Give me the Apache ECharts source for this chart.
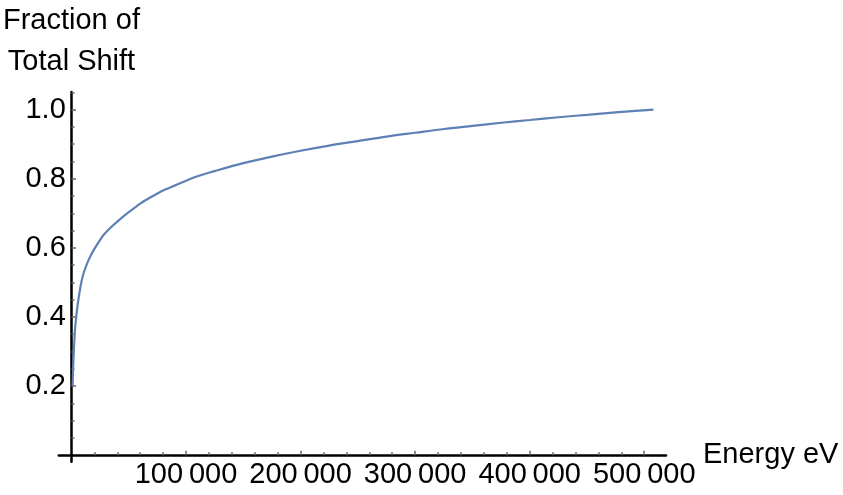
<!DOCTYPE html>
<html>
<head>
<meta charset="utf-8">
<script src="https://cdn.jsdelivr.net/npm/echarts@6/dist/echarts.min.js"></script>
<style>html,body{margin:0;padding:0;background:#fff;}#c{width:843px;height:495px;}</style>
</head>
<body>
<div id="c"></div>
<script>
// Data
const energy = [1000, 1500, 2000, 2500, 3200, 4000, 5000, 6500, 8000, 10000, 12500, 15000, 17500, 20000, 24000, 28000, 34000, 40000, 50000, 60000, 70000, 80000, 90000, 110000, 125000, 150000, 175000, 200000, 225000, 250000, 275000, 300000, 325000, 350000, 375000, 400000, 425000, 450000, 475000, 508000];
const fraction = [0.2, 0.26, 0.30, 0.33, 0.37, 0.395, 0.425, 0.46, 0.49, 0.52, 0.545, 0.565, 0.582, 0.597, 0.618, 0.637, 0.658, 0.676, 0.703, 0.728, 0.748, 0.766, 0.780, 0.807, 0.822, 0.845, 0.864, 0.881, 0.896, 0.909, 0.922, 0.933, 0.944, 0.953, 0.962, 0.970, 0.978, 0.985, 0.992, 1.0];
const xMajorTicks = [100000, 200000, 300000, 400000, 500000];
const xMinorTicks = [20000, 40000, 60000, 80000, 120000, 140000, 160000, 180000, 220000, 240000, 260000, 280000, 320000, 340000, 360000, 380000, 420000, 440000, 460000, 480000];
const yMajorTicks = [0.2, 0.4, 0.6, 0.8, 1.0];
const yMinorTicks = [0.05, 0.1, 0.15, 0.25, 0.3, 0.35, 0.45, 0.5, 0.55, 0.65, 0.7, 0.75, 0.85, 0.9, 0.95, 1.05];
const xName = 'Energy eV';
const yName = 'Fraction of\nTotal Shift';

const FONT = 'Liberation Sans, Arial, Helvetica, sans-serif';
const FS = 29;
const X_MIN = -11070, X_MAX = 519000;
const Y_MIN = -0.019, Y_MAX = 1.051;

function fmtX(v) {
  const s = String(Math.round(v));
  return s.replace(/\B(?=(\d{3})+(?!\d))/g, '\u2009');
}

const chart = echarts.init(document.getElementById('c'), null, {renderer: 'canvas'});
const tickStyle = {color: '#666', width: 1.5};
chart.setOption({
  animation: false,
  backgroundColor: '#fff',
  grid: {left: 58, right: 177, top: 87, bottom: 33.3},
  xAxis: [
    {
      type: 'value', min: X_MIN, max: X_MAX, position: 'bottom',
      axisLine: {show: true, onZero: true, onZeroAxisIndex: 0, lineStyle: {color: '#000', width: 2.5}},
      axisTick: {show: true, inside: true, length: 4.5, customValues: xMajorTicks, lineStyle: tickStyle},
      axisLabel: {show: true, customValues: xMajorTicks, formatter: fmtX, margin: -1,
        fontFamily: FONT, fontSize: FS, color: '#000'},
      splitLine: {show: false},
      name: xName, nameLocation: 'end', nameGap: 37,
      nameTextStyle: {fontFamily: FONT, fontSize: FS, color: '#000'}
    },
    {
      type: 'value', min: X_MIN, max: X_MAX, position: 'bottom',
      axisLine: {show: false, onZero: true, onZeroAxisIndex: 0},
      axisTick: {show: true, inside: true, length: 3, customValues: xMinorTicks, lineStyle: tickStyle},
      axisLabel: {show: false},
      splitLine: {show: false}
    }
  ],
  yAxis: [
    {
      type: 'value', min: Y_MIN, max: Y_MAX, position: 'left',
      axisLine: {show: true, onZero: true, onZeroAxisIndex: 0, lineStyle: {color: '#000', width: 2.5}},
      axisTick: {show: true, inside: true, length: 4.5, customValues: yMajorTicks, lineStyle: tickStyle},
      axisLabel: {show: true, customValues: yMajorTicks, formatter: v => v.toFixed(1), margin: -7,
        fontFamily: FONT, fontSize: FS, color: '#000'},
      splitLine: {show: false},
      name: yName, nameLocation: 'end', nameGap: 9,
      nameTextStyle: {fontFamily: FONT, fontSize: FS, color: '#000', lineHeight: 41.5, align: 'center'}
    },
    {
      type: 'value', min: Y_MIN, max: Y_MAX, position: 'left',
      axisLine: {show: false, onZero: true, onZeroAxisIndex: 0},
      axisTick: {show: true, inside: true, length: 3, customValues: yMinorTicks, lineStyle: tickStyle},
      axisLabel: {show: false},
      splitLine: {show: false}
    }
  ],
  series: [{
    type: 'line',
    xAxisIndex: 0, yAxisIndex: 0,
    data: energy.map((e, i) => [e, fraction[i]]),
    showSymbol: false,
    smooth: 0.3,
    lineStyle: {color: '#5E81B5', width: 2.2},
    z: 1
  }]
});
</script>
</body>
</html>
